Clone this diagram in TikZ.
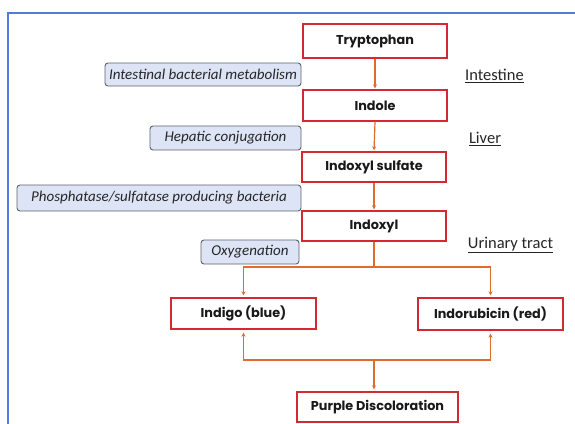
\documentclass[tikz,border=0pt]{standalone}
\usepackage{fontspec}
\setmainfont{Carlito}
\newfontfamily\boxfont{Poppins}
\usetikzlibrary{arrows.meta}
\definecolor{frameblue}{RGB}{80,125,220}
\definecolor{boxred}{RGB}{212,40,50}
\definecolor{arrorange}{RGB}{222,108,48}
\definecolor{labfill}{RGB}{221,228,246}
\definecolor{labdraw}{RGB}{95,98,108}
\tikzset{
  stepbox/.style={draw=boxred, line width=1.4pt, fill=white, minimum width=144pt, minimum height=31pt, inner sep=0pt, font=\boxfont\bfseries\fontsize{12.8}{14}\selectfont, text=black!90},
  labbox/.style={draw=labdraw, line width=0.9pt, fill=labfill, rounded corners=3pt, minimum height=24pt, inner sep=0pt, font=\itshape\fontsize{15}{17}\selectfont, text=black!85},
  region/.style={font=\fontsize{16.5}{18}\selectfont, text=black!85, inner sep=0pt},
  flow/.style={draw=arrorange, line width=1.2pt, -{Stealth[length=4pt,width=4pt]}},
  flowline/.style={draw=arrorange, line width=1.2pt}
}
\begin{document}
\begin{tikzpicture}[x=1pt,y=-1pt]
\useasboundingbox (0,0) rectangle (575,423);
\fill[white] (0,0) rectangle (575,423);
\draw[frameblue, line width=1.6pt] (8,440) -- (8,13) -- (590,13);
% main nodes
\node[stepbox, minimum height=34pt] (tryp) at (375,41) {Tryptophan};
\node[stepbox] (indole) at (375,105.5) {Indole};
\node[stepbox, minimum height=30pt] (isulf) at (374,167) {Indoxyl sulfate};
\node[stepbox, minimum height=30pt] (indoxyl) at (374,226) {Indoxyl};
\node[stepbox, minimum width=145pt] (indigo) at (243.5,313.5) {Indigo (blue)};
\node[stepbox, minimum width=145pt, minimum height=32pt] (indor) at (490.5,314) {Indorubicin (red)};
\node[stepbox, minimum width=161pt, minimum height=30pt] (purple) at (377.5,407) {Purple Discoloration};
% labels
\node[labbox, minimum width=196pt, minimum height=23pt] (lab1) at (203,74.5) {Intestinal bacterial metabolism};
\node[labbox, minimum width=151pt] (lab2) at (225.5,138) {Hepatic conjugation};
\node[labbox, minimum width=284pt, minimum height=26pt] (lab3) at (159,198) {Phosphatase/sulfatase producing bacteria};
\node[labbox, minimum width=98pt] (lab4) at (250,252) {Oxygenation};
% regions
\node[region] (r1) at (494.5,76) {\underline{Intestine}};
\node[region] (r2) at (485,139) {\underline{Liver}};
\node[region] (r3) at (510.5,245) {\underline{Urinary tract}};
% connectors
\draw[flow, shorten >=1pt] (tryp.south) -- (indole.north);
\draw[flow, shorten >=1pt] (indole.south) -- (isulf.north);
\draw[flow, shorten >=1pt] (isulf.south) -- (indoxyl.north);
\coordinate (split) at (374,267);
\coordinate (join) at (374,360);
\draw[flowline] (indoxyl.south) -- (split);
\draw[flow, shorten >=2pt] (split) -| (indigo.north);
\draw[flow, shorten >=2pt] (split) -| (indor.north);
\draw[flow, shorten >=3pt] (join) -| (indigo.south);
\draw[flow, shorten >=3pt] (join) -| (indor.south);
\draw[flow, shorten >=2pt] (join) -- (join |- purple.north);
\end{tikzpicture}
\end{document}
